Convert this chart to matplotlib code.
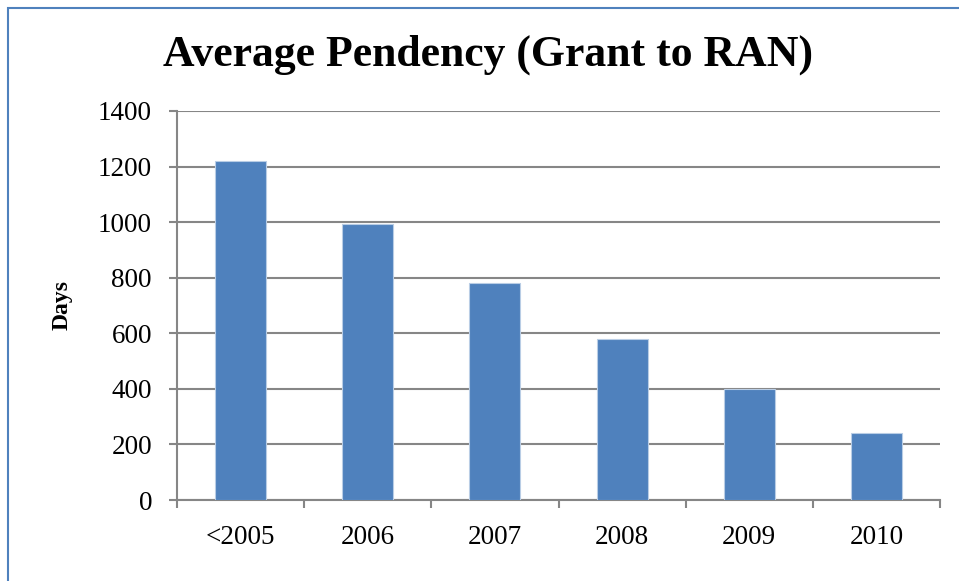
#!/usr/bin/env python3

import matplotlib
matplotlib.use('Agg')
import matplotlib.pyplot as plt
from matplotlib.patches import Rectangle
import numpy as np

categories = ['<2005', '2006', '2007', '2008', '2009', '2010']
days = [1220, 993, 781, 579, 400, 241]
y_ticks = [0, 200, 400, 600, 800, 1000, 1200, 1400]

plt.rcParams['font.family'] = ['Liberation Serif', 'DejaVu Serif']

W, H = 959, 581
fig = plt.figure(figsize=(W / 100, H / 100), dpi=100)
ax = fig.add_axes([177 / W, 1 - 500 / H, (940 - 177) / W, (500 - 111) / H])

# frame round the chart (right and bottom edges fall outside the image)
fig.patches.append(Rectangle((8 / W, -0.1), 1.2, 1 - 8 / H + 0.1,
                             transform=fig.transFigure, fill=False,
                             edgecolor='#4F81BD', linewidth=1.5))

x = np.arange(len(categories))
ax.bar(x, days, width=0.4, color='#4F81BD', edgecolor='#B9CDE5',
       linewidth=0.8, zorder=3)

ax.set_xlim(-0.5, len(categories) - 0.5)
ax.set_ylim(0, 1400)
ax.set_yticks(y_ticks)
ax.set_yticklabels([str(v) for v in y_ticks], fontsize=19.5)
ax.yaxis.grid(True, color='#868686', linewidth=1.5, zorder=0)

# x ticks sit on category borders, labels centred under the bars
ax.set_xticks(np.arange(-0.5, len(categories), 1.0))
ax.set_xticklabels([])
ax.set_xticks(x, minor=True)
ax.set_xticklabels(categories, minor=True, fontsize=19.5)
ax.tick_params(axis='x', which='minor', length=0, pad=18)
ax.tick_params(axis='x', which='major', length=6, width=1.5,
               color='#868686', direction='out')
ax.tick_params(axis='y', length=6, width=1.5, color='#868686', pad=12)

for side in ['top', 'right']:
    ax.spines[side].set_visible(False)
for side in ['left', 'bottom']:
    ax.spines[side].set_color('#868686')
    ax.spines[side].set_linewidth(1.5)

ax.set_ylabel('Days', fontsize=17, fontweight='bold', labelpad=18)

fig.text(488 / W, 1 - 55 / H, 'Average Pendency (Grant to RAN)',
         ha='center', va='center', fontsize=31.5, fontweight='bold')

fig.savefig('out.png', dpi=100)
